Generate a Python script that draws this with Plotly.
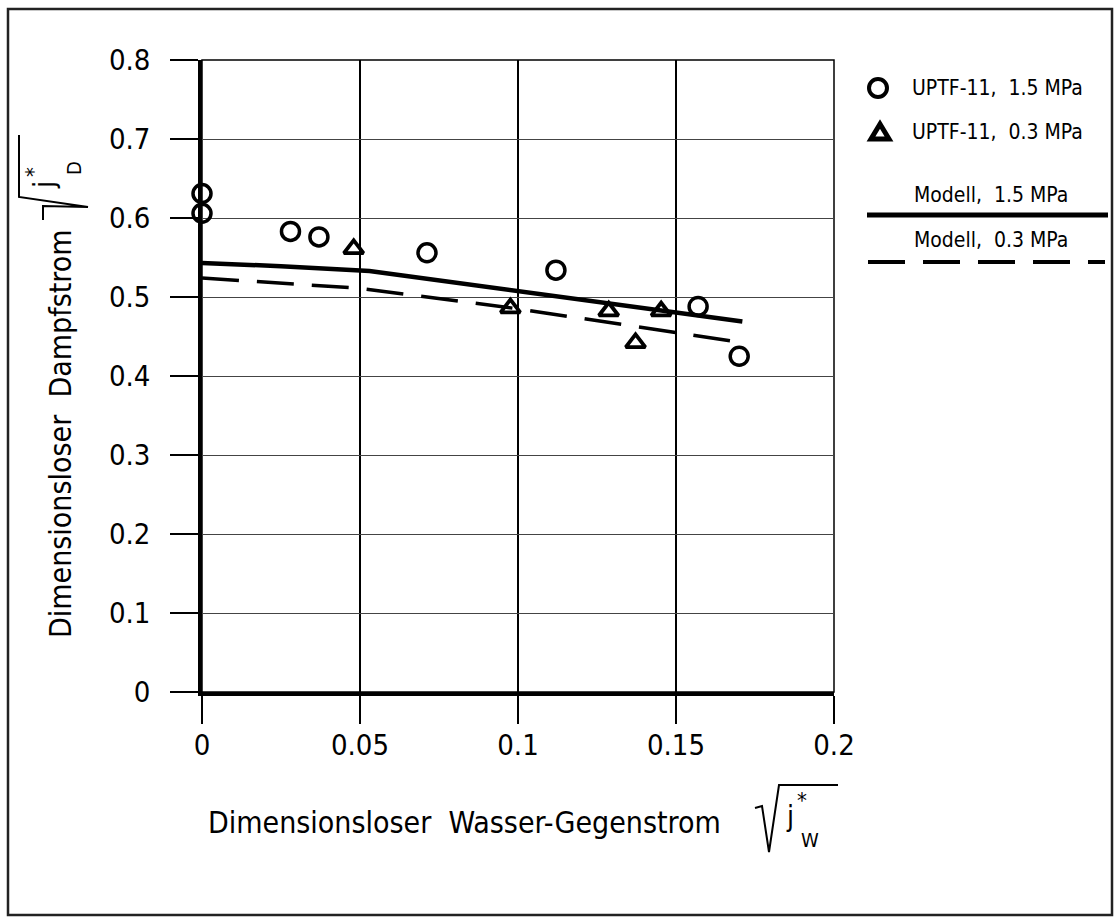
import plotly.graph_objects as go

# ---------------- data ----------------
circ_x = [0.0, 0.0, 0.028, 0.037, 0.0712, 0.112, 0.157, 0.170]
circ_y = [0.631, 0.606, 0.583, 0.576, 0.556, 0.534, 0.488, 0.425]

tri_x = [0.048, 0.0976, 0.1287, 0.1372, 0.1453]
tri_y = [0.561, 0.486, 0.482, 0.442, 0.482]

mod15_x = [0.0, 0.025, 0.053, 0.10, 0.171]
mod15_y = [0.543, 0.539, 0.533, 0.507, 0.469]

mod03_x = [0.0, 0.03, 0.05, 0.10, 0.17]
mod03_y = [0.524, 0.516, 0.511, 0.485, 0.443]

x_ticks = [0, 0.05, 0.1, 0.15, 0.2]
x_ticktext = ["0", "0.05", "0.1", "0.15", "0.2"]
y_ticks = [0, 0.1, 0.2, 0.3, 0.4, 0.5, 0.6, 0.7, 0.8]
y_ticktext = ["0", "0.1", "0.2", "0.3", "0.4", "0.5", "0.6", "0.7", "0.8"]

legend_labels = ["UPTF-11,  1.5 MPa", "UPTF-11,  0.3 MPa", "Modell,  1.5 MPa", "Modell,  0.3 MPa"]
x_title = "Dimensionsloser  Wasser-Gegenstrom"
y_title = "Dimensionsloser  Dampfstrom"

# ---------------- layout helpers ----------------
W, H = 1114, 918
L, R, T, B = 202, 834, 60, 692
FONT = "Liberation Sans Narrow, DejaVu Sans Condensed, Arial Narrow, Liberation Sans, sans-serif"


def px(x):
    return (x - L) / (R - L)


def py(y):
    return (B - y) / (B - T)


fig = go.Figure()

fig.add_trace(go.Scatter(x=mod15_x, y=mod15_y, mode="lines",
                         line=dict(color="black", width=4.5), showlegend=False))
fig.add_trace(go.Scatter(x=mod03_x, y=mod03_y, mode="lines",
                         line=dict(color="black", width=3.5, dash="37px,18px"), showlegend=False))
fig.add_trace(go.Scatter(x=circ_x, y=circ_y, mode="markers", cliponaxis=False,
                         marker=dict(symbol="circle-open", size=18, color="black",
                                     line=dict(width=3.5, color="black")), showlegend=False))
fig.add_trace(go.Scatter(x=tri_x, y=tri_y, mode="markers", cliponaxis=False,
                         marker=dict(symbol="triangle-up-open", size=17, color="black",
                                     line=dict(width=3.8, color="black")), showlegend=False))

shapes = []
# outer frame
shapes.append(dict(type="rect", xref="paper", yref="paper", x0=px(8), x1=px(1112), y0=py(915), y1=py(9),
                   line=dict(color="#222", width=2.5)))
# plot border (top / right)
shapes.append(dict(type="rect", xref="paper", yref="paper", x0=0, x1=1, y0=0, y1=1,
                   line=dict(color="black", width=1.5), layer="below"))
# legend samples
shapes.append(dict(type="circle", xref="paper", yref="paper", x0=px(869), x1=px(887), y0=py(97), y1=py(79),
                   line=dict(color="black", width=4)))
shapes.append(dict(type="path", xref="paper", yref="paper",
                   path=f"M {px(871)} {py(139)} L {px(889)} {py(139)} L {px(880)} {py(124)} Z",
                   line=dict(color="black", width=5)))
shapes.append(dict(type="line", xref="paper", yref="paper", x0=px(867), x1=px(1108), y0=py(215), y1=py(215),
                   line=dict(color="black", width=5)))
shapes.append(dict(type="line", xref="paper", yref="paper", x0=px(868), x1=px(1105), y0=py(262), y1=py(262),
                   line=dict(color="black", width=4, dash="37px,18px")))
# radical for x title
shapes.append(dict(type="path", xref="paper", yref="paper",
                   path=(f"M {px(755)} {py(808)} L {px(762)} {py(806)} L {px(769)} {py(852)} "
                         f"L {px(779)} {py(785)} L {px(838)} {py(785)}"),
                   line=dict(color="black", width=2)))
# radical for y title (rotated)
shapes.append(dict(type="path", xref="paper", yref="paper",
                   path=(f"M {px(43)} {py(220)} L {px(43)} {py(206)} L {px(88)} {py(207)} "
                         f"L {px(19)} {py(197)} L {px(19)} {py(135)}"),
                   line=dict(color="black", width=2)))

annotations = []


def ann(text, x, y, size, xanchor="left", yanchor="middle", angle=0):
    annotations.append(dict(text=text, x=px(x), y=py(y), xref="paper", yref="paper",
                            xanchor=xanchor, yanchor=yanchor, showarrow=False, textangle=angle,
                            font=dict(family=FONT, size=size, color="black")))


ann(legend_labels[0], 910, 88, 21)
ann(legend_labels[1], 910, 132, 21)
ann(legend_labels[2], 912, 195, 21)
ann(legend_labels[3], 912, 240, 21)

ann(x_title, 206, 822, 30)
ann("j", 790, 816, 28, xanchor="center")
ann("*", 802, 800, 22, xanchor="center")
ann("W", 810, 840, 20, xanchor="center")

ann(y_title, 60, 434, 30, xanchor="center", angle=-90)
ann("j", 44, 185, 28, xanchor="center", angle=-90)
ann("*", 34, 172, 22, xanchor="center", angle=-90)
ann("D", 74, 168, 20, xanchor="center", angle=-90)

fig.update_layout(
    width=W, height=H,
    margin=dict(l=L, r=W - R, t=T, b=H - B, pad=0),
    paper_bgcolor="white", plot_bgcolor="white",
    font=dict(family=FONT, size=29, color="black"),
    shapes=shapes, annotations=annotations,
    showlegend=False,
)
fig.update_xaxes(range=[0, 0.2], tickvals=x_ticks, ticktext=x_ticktext,
                 showgrid=True, gridcolor="black", gridwidth=1.8, zeroline=False,
                 showline=True, linecolor="black", linewidth=3.5,
                 ticks="outside", ticklen=28, tickwidth=1.5, tickcolor="black",
                 tickfont=dict(family=FONT, size=29, color="black"), ticklabelstandoff=-4)
fig.update_yaxes(range=[0, 0.8], tickvals=y_ticks, ticktext=y_ticktext,
                 showgrid=True, gridcolor="#444", gridwidth=1.2, zeroline=False,
                 showline=True, linecolor="black", linewidth=3.5,
                 ticks="outside", ticklen=28, tickwidth=1.5, tickcolor="black",
                 tickfont=dict(family=FONT, size=29, color="black"), ticklabelstandoff=14)

fig.write_html("out.html", config={"displayModeBar": False},
               post_script="document.body.style.margin='0';document.body.style.overflow='hidden';")
